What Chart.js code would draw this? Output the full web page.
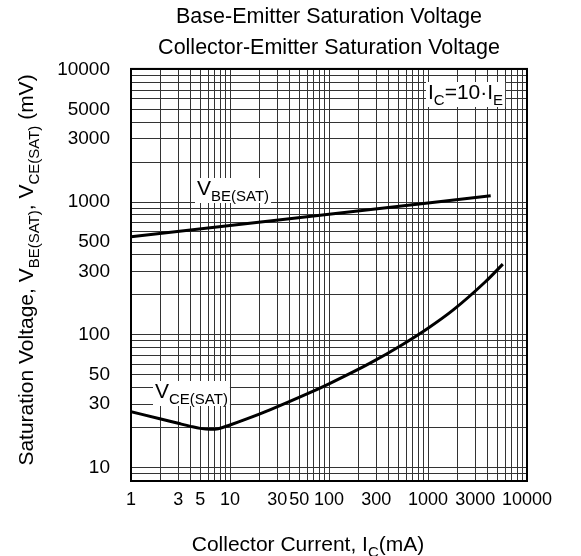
<!DOCTYPE html>
<html>
<head>
<meta charset="utf-8">
<script src="https://cdn.jsdelivr.net/npm/chart.js@4.4.0/dist/chart.umd.min.js"></script>
<style>
  body { margin: 0; background: #fff; }
</style>
</head>
<body>
<canvas id="satChart" width="581" height="556"></canvas>
<script>
// Collector current (mA) vs saturation voltage (mV)
const vbeCurrent = [1, 10, 100, 1000, 4300];
const vbeSat = [548, 667, 811, 987, 1118];

const vceCurrent = [1, 2, 3, 4, 5, 6.3, 7.6, 10, 15, 26, 60, 100, 260, 560, 1000, 1800, 3800, 5700];
const vceSat = [26.3, 23.2, 21.5, 20.4, 19.7, 19.4, 19.6, 20.9, 23.3, 27.4, 35.8, 42.7, 61.1, 84.9, 112, 154, 251, 341];

// Tick labels that get printed
const xTickLabels = [1, 3, 5, 10, 30, 50, 100, 300, 1000, 3000, 10000];
const yTickLabels = [10, 30, 50, 100, 300, 500, 1000, 3000, 5000, 10000];

const fontFamily = "'Liberation Sans', Arial, sans-serif";

// grid line at every 1..9 step of each decade
function decadeGrid(lo, hi) {
  const out = [];
  for (let d = 1; d <= 10000; d *= 10) {
    for (let k = 1; k <= 9; k++) {
      const v = k * d;
      if (v >= lo && v <= hi) out.push(v);
    }
  }
  return out;
}

function measureRich(ctx, parts, size) {
  const subSize = Math.round(size * 0.7);
  let total = 0;
  parts.forEach(([t, sub]) => {
    ctx.font = (sub ? subSize : size) + "px " + fontFamily;
    total += ctx.measureText(t).width;
  });
  return total;
}

// draws text made of normal + subscript pieces
function drawRich(ctx, parts, x, y, size, align) {
  const subSize = Math.round(size * 0.7);
  const total = measureRich(ctx, parts, size);
  let cx = align === "center" ? x - total / 2 : x;
  parts.forEach(([t, sub]) => {
    ctx.font = (sub ? subSize : size) + "px " + fontFamily;
    ctx.fillText(t, cx, sub ? y + size * 0.27 : y);
    cx += ctx.measureText(t).width;
  });
}

// curve labels with white background
const curveNotes = [
  { parts: [["V", false], ["BE(SAT)", true]], x: 197, y: 195 },
  { parts: [["V", false], ["CE(SAT)", true]], x: 155, y: 398 },
  { parts: [["I", false], ["C", true], ["=10\u00b7I", false], ["E", true]], x: 428, y: 99 },
];

const decorPlugin = {
  id: "decor",
  afterDatasetsDraw(chart) {
    const ctx = chart.ctx;
    const area = chart.chartArea;
    ctx.save();

    // frame
    ctx.strokeStyle = "#000";
    ctx.lineWidth = 2;
    ctx.strokeRect(area.left, area.top, area.right - area.left, area.bottom - area.top);

    // notes on the plot
    ctx.textBaseline = "alphabetic";
    ctx.textAlign = "left";
    curveNotes.forEach((n) => {
      const w = measureRich(ctx, n.parts, 21);
      ctx.fillStyle = "#fff";
      ctx.fillRect(n.x - 2, n.y - 17, w + 4, 25);
      ctx.fillStyle = "#000";
      drawRich(ctx, n.parts, n.x, n.y, 21, "left");
    });

    // x axis title
    drawRich(ctx, [["Collector Current, I", false], ["C", true], ["(mA)", false]], 308, 551, 21, "center");

    // y axis title, rotated
    ctx.translate(33, 270);
    ctx.rotate(-Math.PI / 2);
    drawRich(ctx, [
      ["Saturation Voltage, V", false], ["BE(SAT)", true],
      [", V", false], ["CE(SAT)", true], [" (mV)", false],
    ], 0, 0, 21, "center");

    ctx.restore();
  },
};

const ctx = document.getElementById("satChart").getContext("2d");

const satChart = new Chart(ctx, {
  type: "line",
  data: {
    datasets: [
      {
        label: "VBE(SAT)",
        data: vbeCurrent.map((c, i) => ({ x: c, y: vbeSat[i] })),
        borderColor: "#000",
        borderWidth: 3,
        pointRadius: 0,
        tension: 0,
      },
      {
        label: "VCE(SAT)",
        data: vceCurrent.map((c, i) => ({ x: c, y: vceSat[i] })),
        borderColor: "#000",
        borderWidth: 3,
        pointRadius: 0,
        cubicInterpolationMode: "monotone",
      },
    ],
  },
  options: {
    responsive: false,
    animation: false,
    layout: { padding: { left: 0, right: 54, top: 0, bottom: 0 } },
    plugins: {
      legend: { display: false },
      tooltip: { enabled: false },
      title: {
        display: true,
        fullSize: false,
        text: ["Base-Emitter Saturation Voltage", "Collector-Emitter Saturation Voltage"],
        color: "#000",
        font: { family: fontFamily, size: 21.5, weight: "normal", lineHeight: 1.44 },
        padding: { top: 2, bottom: 5 },
      },
    },
    scales: {
      x: {
        type: "logarithmic",
        min: 1,
        max: 10000,
        afterBuildTicks: (scale) => {
          scale.ticks = decadeGrid(1, 10000).map((v) => ({ value: v }));
        },
        afterFit: (scale) => {
          scale.height = 75;
        },
        grid: { color: "#333", lineWidth: 1, drawTicks: false },
        border: { display: false },
        ticks: {
          autoSkip: false,
          minRotation: 0,
          maxRotation: 0,
          padding: 8,
          color: "#000",
          font: { family: fontFamily, size: 18 },
          callback: (v) => (xTickLabels.includes(v) ? String(v) : ""),
        },
      },
      y: {
        type: "logarithmic",
        min: 7.9,
        max: 10100,
        afterBuildTicks: (scale) => {
          scale.ticks = decadeGrid(7.9, 10100).map((v) => ({ value: v }));
        },
        afterFit: (scale) => {
          scale.width = 131;
        },
        grid: { color: "#333", lineWidth: 1, drawTicks: false },
        border: { display: false },
        ticks: {
          autoSkip: false,
          padding: 21,
          color: "#000",
          font: { family: fontFamily, size: 19 },
          callback: (v) => (yTickLabels.includes(v) ? String(v) : ""),
        },
      },
    },
  },
  plugins: [decorPlugin],
});
</script>
</body>
</html>
